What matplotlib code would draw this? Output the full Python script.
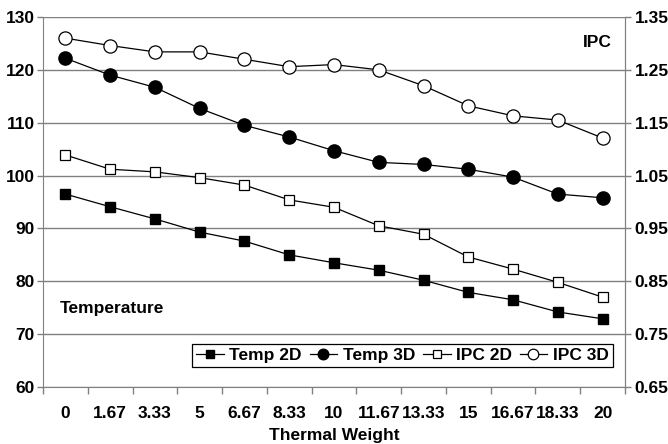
import matplotlib
matplotlib.use("Agg")
import matplotlib.pyplot as plt
import numpy as np

plt.rcParams['font.family'] = ['Liberation Sans', 'DejaVu Sans']
plt.rcParams['font.weight'] = 'bold'

categories = ["0", "1.67", "3.33", "5", "6.67", "8.33", "10", "11.67", "13.33", "15", "16.67", "18.33", "20"]
temp_2d = [96.5, 94.1, 91.8, 89.3, 87.6, 85.0, 83.5, 82.1, 80.2, 77.9, 76.5, 74.2, 72.9]
temp_3d = [122.2, 119.0, 116.7, 112.7, 109.5, 107.3, 104.7, 102.5, 102.1, 101.2, 99.7, 96.5, 95.8]
ipc_2d = [1.089, 1.062, 1.057, 1.046, 1.032, 1.004, 0.990, 0.955, 0.939, 0.896, 0.873, 0.848, 0.820]
ipc_3d = [1.310, 1.296, 1.284, 1.284, 1.270, 1.256, 1.260, 1.250, 1.220, 1.182, 1.163, 1.155, 1.121]
left_ticks = [60, 70, 80, 90, 100, 110, 120, 130]
right_ticks = [0.65, 0.75, 0.85, 0.95, 1.05, 1.15, 1.25, 1.35]

fig = plt.figure(figsize=(6.68, 4.44), dpi=100)
ax = fig.add_axes([43/668, 1-387/444, 582/668, 370/444])
ax2 = ax.twinx()

x = np.arange(len(categories))
gray = '#808080'
fs = 12.5

ax.set_xlim(-0.5, len(categories)-0.5)
ax.set_ylim(60, 130)
ax.set_yticks(left_ticks)
ax.set_yticklabels([str(t) for t in left_ticks], fontsize=fs, fontweight='bold')
ax.yaxis.grid(True, color=gray, linewidth=1)
ax.set_axisbelow(True)

ax.set_xticks(np.arange(-0.5, len(categories)), minor=False)
ax.set_xticklabels([])
ax.set_xticks(x, minor=True)
ax.set_xticklabels(categories, minor=True, fontsize=fs, fontweight='bold')
ax.tick_params(axis='x', which='major', length=5, color=gray, width=1, direction='out')
ax.tick_params(axis='x', which='minor', length=0, pad=14)
ax.tick_params(axis='y', length=4, color=gray, width=1, direction='out', pad=2)
ax.set_xlabel("Thermal Weight", fontsize=fs, fontweight='bold', labelpad=5)

ax.spines['top'].set_visible(False)
for s in ['left', 'bottom', 'right']:
    ax.spines[s].set_color(gray)
for s in ['top', 'left', 'bottom']:
    ax2.spines[s].set_visible(False)
ax2.spines['right'].set_color(gray)

ax2.set_ylim(0.65, 1.35)
ax2.set_yticks(right_ticks)
ax2.set_yticklabels([f"{t:.2f}" for t in right_ticks], fontsize=fs, fontweight='bold')
ax2.tick_params(axis='y', length=4, color=gray, width=1, direction='out', pad=3)

h1, = ax.plot(x, temp_2d, color='black', lw=0.9, marker='s', ms=7.5, mfc='black', mec='black', label='Temp 2D')
h2, = ax.plot(x, temp_3d, color='black', lw=0.9, marker='o', ms=9.5, mfc='black', mec='black', label='Temp 3D')
h3, = ax2.plot(x, ipc_2d, color='black', lw=0.9, marker='s', ms=7.5, mfc='white', mec='black', mew=0.9, label='IPC 2D')
h4, = ax2.plot(x, ipc_3d, color='black', lw=0.9, marker='o', ms=9.5, mfc='white', mec='black', mew=0.9, label='IPC 3D')

ax.text(0.029, 0.2135, "Temperature", transform=ax.transAxes, fontsize=fs, fontweight='bold', va='center', ha='left')
ax.text(0.953, 0.932, "IPC", transform=ax.transAxes, fontsize=fs, fontweight='bold', va='center', ha='center')

leg = ax2.legend(handles=[h1, h2, h3, h4], loc='lower right', bbox_to_anchor=(0.979, 0.053), ncol=4,
                 fontsize=fs, frameon=True, fancybox=False, edgecolor='black', framealpha=1,
                 handlelength=1.6, handletextpad=0.3, columnspacing=0.45, borderpad=0.25,
                 borderaxespad=0, markerscale=0.8)
leg.get_frame().set_linewidth(0.9)
for t in leg.get_texts():
    t.set_fontweight('bold')

fig.savefig("out.png", dpi=100)
